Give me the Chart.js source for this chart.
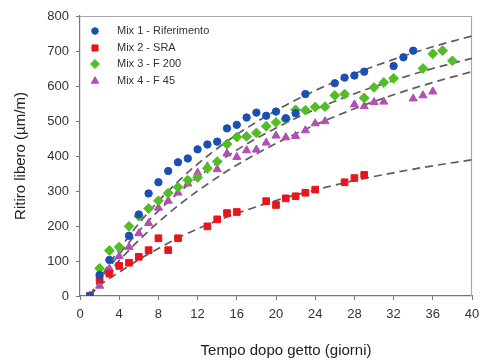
<!DOCTYPE html>
<html>
<head>
<meta charset="utf-8">
<script src="https://cdn.jsdelivr.net/npm/chart.js@4/dist/chart.umd.min.js"></script>
<style>
html,body{margin:0;padding:0;background:#fff;}
#wrap{width:480px;height:360px;position:relative;}
</style>
</head>
<body>
<div id="wrap"><canvas id="c" width="480" height="360"></canvas></div>
<script>
// ---- data ----
const seriesNames = ['Mix 1 - Riferimento', 'Mix 2 - SRA', 'Mix 3 - F 200', 'Mix 4 - F 45'];
const xTitle = 'Tempo dopo getto (giorni)';
const yTitle = 'Ritiro libero (µm/m)';

const mix1Days = [1,2,3,5,6,7,8,9,10,11,12,13,14,15,16,17,18,19,20,21,22,23,26,27,28,29,32,33,34];
const mix1Vals = [0,60,103,172,233,293,325,357,382,393,419,433,441,479,489,510,524,515,527,508,522,577,608,624,630,641,657,682,701];

const mix2Days = [1,2,3,4,5,6,7,8,9,10,13,14,15,16,19,20,21,22,23,24,27,28,29];
const mix2Vals = [0,48,64,86,95,112,131,165,131,165,199,219,237,240,271,260,279,285,295,304,325,337,346];

const mix3Days = [1,2,3,4,5,6,7,8,9,10,11,12,13,14,15,16,17,18,19,20,21,22,23,24,25,26,27,29,30,31,32,35,36,37,38];
const mix3Vals = [0,79,130,140,199,228,250,272,294,311,331,339,365,384,434,454,456,466,485,496,505,532,531,540,541,573,577,566,596,610,622,650,692,701,672];

const mix4Days = [1,2,3,4,5,6,7,8,9,10,11,12,13,14,15,16,17,18,19,20,21,22,23,24,25,28,29,30,31,34,35,36];
const mix4Vals = [0,29,78,114,140,179,208,252,272,295,321,352,370,362,407,397,416,418,438,458,453,457,473,493,499,547,542,554,555,564,573,584];

// dashed trend curves
const curveDays = [1,2,3,4,6,8,10,12,15,18,21,24,28,32,36,40];
const fit1 = [0,48,92,133,207,271,327,377,442,497,545,587,635,676,712,743];
const fit2 = [0,30,50,68,104,136,166,192,226,255,281,303,330,352,372,389];
const fit3 = [0,43,82,119,185,243,294,339,399,450,494,533,578,616,650,679];
const fit4 = [0,36,69,101,159,211,258,300,357,406,450,489,535,575,610,641];

const xTickValues = [0,4,8,12,16,20,24,28,32,36,40];
const yTickValues = [0,100,200,300,400,500,600,700,800];

// ---- styling ----
const colors = ['#1c4fb5', '#ea141c', '#52bd24', '#b24fb4'];
const pointStyles = ['circle', 'rect', 'rectRot', 'triangle'];
const radii = [3.7, 4.7, 4.9, 4.7];
const FONT = '"Liberation Sans", Arial, sans-serif';

function pts(xs, ys){ return xs.map((x,i)=>({x:x, y:ys[i]})); }

const pointSets = [[mix1Days,mix1Vals],[mix2Days,mix2Vals],[mix3Days,mix3Vals],[mix4Days,mix4Vals]];
const fits = [fit1, fit2, fit3, fit4];

const datasets = [];
fits.forEach((f, i) => {
  datasets.push({
    label: 'fit ' + (i+1),
    data: pts(curveDays, f),
    showLine: true,
    borderColor: '#5c5c5c',
    borderWidth: 1.7,
    borderDash: [8, 5],
    pointRadius: 0,
    cubicInterpolationMode: 'monotone',
    fill: false,
    order: 10
  });
});
pointSets.forEach((p, i) => {
  datasets.push({
    label: seriesNames[i],
    data: pts(p[0], p[1]),
    showLine: false,
    pointStyle: pointStyles[i],
    pointRadius: radii[i],
    backgroundColor: colors[i],
    borderColor: colors[i],
    borderWidth: 1,
    order: i
  });
});

const framePlugin = {
  id: 'frame',
  beforeDatasetsDraw(chart){
    const a = chart.chartArea, ctx = chart.ctx;
    ctx.save();
    ctx.strokeStyle = '#a8a8a8';
    ctx.lineWidth = 1.2;
    ctx.beginPath();
    ctx.moveTo(a.left, a.top + 0.5);
    ctx.lineTo(a.right - 0.5, a.top + 0.5);
    ctx.lineTo(a.right - 0.5, a.bottom);
    ctx.stroke();
    ctx.restore();
  }
};

const legendPlugin = {
  id: 'innerLegend',
  afterDatasetsDraw(chart){
    const a = chart.chartArea, ctx = chart.ctx;
    ctx.save();
    const rowY = [15, 32, 48, 65];
    seriesNames.forEach((name, i) => {
      const y = a.top + rowY[i];
      ctx.fillStyle = colors[i];
      ctx.strokeStyle = colors[i];
      ctx.lineWidth = 1;
      Chart.helpers.drawPoint(ctx, {pointStyle: pointStyles[i], radius: radii[i] - 0.4, borderWidth: 1, rotation: 0}, a.left + 15, y);
      ctx.fillStyle = '#333';
      ctx.font = '11px ' + FONT;
      ctx.textBaseline = 'middle';
      ctx.textAlign = 'left';
      ctx.fillText(name, a.left + 37, y);
    });
    // x-axis title (slightly right of the plot centre, as in the reference)
    ctx.fillStyle = '#222';
    ctx.font = '15px ' + FONT;
    ctx.textAlign = 'center';
    ctx.textBaseline = 'middle';
    ctx.fillText(xTitle, (a.left + a.right) / 2 + 10, 351);
    ctx.restore();
  }
};

new Chart(document.getElementById('c'), {
  type: 'scatter',
  data: { datasets },
  options: {
    responsive: false,
    devicePixelRatio: 1,
    animation: false,
    layout: { padding: { top: 16, right: 8, left: 0, bottom: 0 } },
    plugins: { legend: { display: false }, tooltip: { enabled: false } },
    scales: {
      x: {
        type: 'linear', min: 0, max: 40,
        afterBuildTicks(s){ s.ticks = xTickValues.map(v => ({value: v})); },
        afterFit(s){ s.height = 64; s.paddingLeft = 0; s.paddingRight = 0; },
        grid: { drawOnChartArea: false, drawTicks: true, tickLength: 4, color: '#777', lineWidth: 1 },
        border: { color: '#777', width: 1.2 },
        ticks: { color: '#333', font: { family: FONT, size: 13 }, padding: 7, maxRotation: 0 },
        title: { display: false }
      },
      y: {
        type: 'linear', min: 0, max: 800,
        afterBuildTicks(s){ s.ticks = yTickValues.map(v => ({value: v})); },
        afterFit(s){ s.width = 80; s.paddingTop = 0; s.paddingBottom = 0; },
        grid: { drawOnChartArea: false, drawTicks: true, tickLength: 4, color: '#777', lineWidth: 1 },
        border: { color: '#777', width: 1.2 },
        ticks: { color: '#333', font: { family: FONT, size: 13 }, padding: 7 },
        title: { display: true, text: yTitle, color: '#222', font: { family: FONT, size: 15 }, padding: { top: 12, bottom: 0 } }
      }
    }
  },
  plugins: [framePlugin, legendPlugin]
});
</script>
</body>
</html>
